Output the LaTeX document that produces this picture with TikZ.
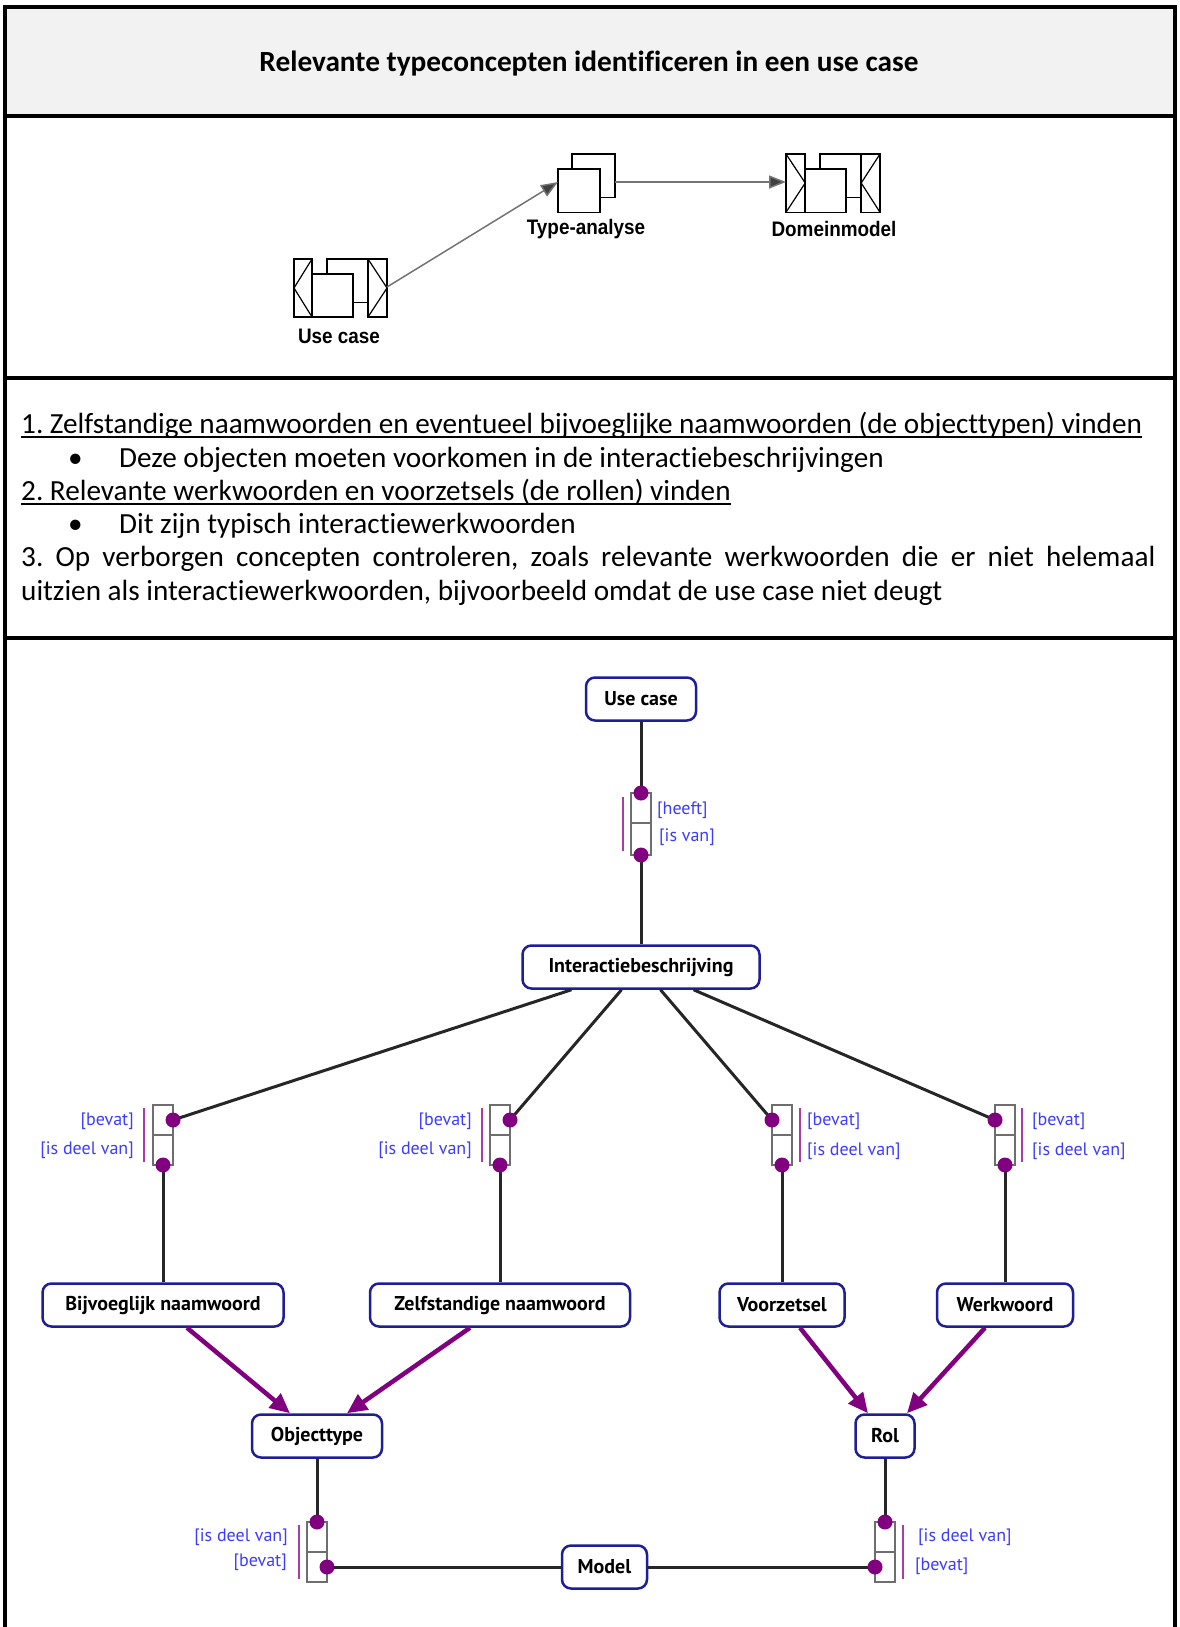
\documentclass[tikz,border=0pt]{standalone}
\usepackage{fontspec}
\setmainfont{Carlito}[Ligatures={NoCommon}]
\newfontfamily\ptsans{PT Sans}
\newfontfamily\lblfont[FakeStretch=0.9]{Liberation Sans}
\usetikzlibrary{arrows.meta,calc}
\definecolor{navy}{RGB}{30,30,150}
\definecolor{lblblue}{RGB}{60,60,255}
\definecolor{purp}{RGB}{128,0,128}
\definecolor{lightpurp}{RGB}{170,60,170}
\definecolor{hdrgray}{RGB}{242,242,242}
\definecolor{linegray}{RGB}{110,110,110}
\frenchspacing
\begin{document}
\begin{tikzpicture}[x=1pt,y=-1pt,
  tbl/.style={line width=3.5pt,black},
  ent/.style={draw=navy,line width=2.5pt,fill=white,rounded corners=9pt,minimum height=43pt,inner sep=0pt,font=\ptsans\bfseries\fontsize{20}{24}\selectfont},
  conn/.style={line width=3pt,black!85},
  gen/.style={line width=4.5pt,purp,-{Triangle[length=20pt,width=18pt]}},
  cbox/.style={draw=linegray,line width=2pt,fill=white},
  pdot/.style={fill=purp},
  plabel/.style={text=lblblue,font=\ptsans\fontsize{18}{20}\selectfont,inner sep=0pt},
  pbar/.style={lightpurp,line width=2pt},
  body/.style={font=\fontsize{29.2}{35}\selectfont,inner sep=0pt,anchor=base west},
  icon/.style={draw=black,line width=1.5pt,fill=white},
  iline/.style={black,line width=1.2pt},
  ilbl/.style={font=\lblfont\bfseries\fontsize{21}{24}\selectfont,inner sep=0pt},
  iarrow/.style={line width=1.5pt,black!55,-{Triangle[length=17pt,width=13pt,fill=black!75]}},
  uline/.style={line width=2pt,black}
]
\useasboundingbox (0,0) rectangle (1179,1627);
% ---------- table ----------
\fill[hdrgray] (5,7) rectangle (1175,116);
\draw[tbl] (5,1627) -- (5,7) -- (1175,7) -- (1175,1627);
\draw[tbl] (5,116) -- (1175,116);
\draw[tbl] (5,378) -- (1175,378);
\draw[tbl] (5,638) -- (1175,638);
\node[font=\bfseries\fontsize{29.3}{35}\selectfont,inner sep=0pt] (title) at (589,64) {Relevante typeconcepten identificeren in een use case};
% ---------- row 2: icons ----------
% Use case icon
\draw[icon] (326.8,259) rectangle (368,302.3);
\draw[icon] (312,274) rectangle (353.2,317);
\draw[icon] (294,259) rectangle (312,317);
\draw[iline] (312,259) -- (294,288) -- (312,317);
\draw[icon] (368,259) rectangle (387,317);
\draw[iline] (368,259) -- (387,288) -- (368,317);
% Type-analyse icon
\draw[icon] (572,154) rectangle (614.8,197.3);
\draw[icon] (558,169) rectangle (600,212.3);
% Domeinmodel icon
\draw[icon] (820,154) rectangle (861.2,197.3);
\draw[icon] (805.2,169) rectangle (846,212.3);
\draw[icon] (786,154) rectangle (805.2,212.3);
\draw[iline] (786,154) -- (805.2,183) -- (786,212.3);
\draw[icon] (861.2,154) rectangle (880,212.3);
\draw[iline] (880,154) -- (861.2,183) -- (880,212.3);
\coordinate (ucR) at (387,287);
\coordinate (taL) at (558,182);
\coordinate (taR) at (614.8,182);
\coordinate (dmL) at (786,182);
\draw[iarrow] (ucR) -- (taL);
\draw[iarrow] (taR) -- (dmL);
\node[ilbl] (uclbl) at (339,336) {Use case};
\node[ilbl] (talbl) at (586,229) {Type-analyse};
\node[ilbl] (dmlbl) at (834,229) {Domeinmodel};
% ---------- row 3: text ----------
\node[body] (t1) at (21,433) {1. Zelfstandige naamwoorden en eventueel bijvoeglijke naamwoorden (de objecttypen) vinden};
\draw[uline] ([yshift=-3.5pt]t1.base west) -- ([yshift=-3.5pt]t1.base east);
\node[body] (b1) at (68,467) {•};
\node[body] (t2) at (119,467) {Deze objecten moeten voorkomen in de interactiebeschrijvingen};
\node[body] (t3) at (21,500) {2. Relevante werkwoorden en voorzetsels (de rollen) vinden};
\draw[uline] ([yshift=-3.5pt]t3.base west) -- ([yshift=-3.5pt]t3.base east);
\node[body] (b2) at (68,533) {•};
\node[body] (t4) at (119,533) {Dit zijn typisch interactiewerkwoorden};
\node[body] (t5) at (21,566) {\makebox[1134pt][s]{3. Op verborgen concepten controleren, zoals relevante werkwoorden die er niet helemaal}};
\node[body] (t6) at (21,600) {uitzien als interactiewerkwoorden, bijvoorbeeld omdat de use case niet deugt};
% ---------- row 4: model ----------
\node[ent,minimum width=110pt] (usecase) at (641,699) {Use case};
\node[ent,minimum width=237pt] (inter) at (641,967) {Interactiebeschrijving};
\node[ent,minimum width=241pt] (bijv) at (163,1305) {Bijvoeglijk naamwoord};
\node[ent,minimum width=260pt] (zelf) at (500,1305) {Zelfstandige naamwoord};
\node[ent,minimum width=125pt] (voorz) at (782,1305) {Voorzetsel};
\node[ent,minimum width=136pt] (werk) at (1005,1305) {Werkwoord};
\node[ent,minimum width=130pt] (objt) at (317,1436) {Objecttype};
\node[ent,minimum width=59pt] (rol) at (885,1436) {Rol};
\node[ent,minimum width=85pt] (model) at (604.5,1567) {Model};
% dot coordinates
\coordinate (d0t) at (641,793);
\coordinate (d0b) at (641,855);
\coordinate (d1t) at (173,1120);
\coordinate (d1b) at (163,1165);
\coordinate (d2t) at (510,1120);
\coordinate (d2b) at (500,1165);
\coordinate (d3t) at (772,1120);
\coordinate (d3b) at (782,1165);
\coordinate (d4t) at (995,1120);
\coordinate (d4b) at (1005,1165);
\coordinate (d5t) at (317,1522);
\coordinate (d5r) at (327,1567);
\coordinate (d6t) at (885,1522);
\coordinate (d6l) at (875,1567);
% connector lines
\draw[conn] (usecase) -- (d0t);
\draw[conn] (d0b) -- (inter);
\draw[conn] (inter) -- (d1t);
\draw[conn] (inter) -- (d2t);
\draw[conn] (inter) -- (d3t);
\draw[conn] (inter) -- (d4t);
\draw[conn] (d1b) -- (bijv);
\draw[conn] (d2b) -- (zelf);
\draw[conn] (d3b) -- (voorz);
\draw[conn] (d4b) -- (werk);
\draw[conn] (objt) -- (d5t);
\draw[conn] (rol) -- (d6t);
\draw[conn] (d5r) -- (model);
\draw[conn] (model) -- (d6l);
% relation boxes
\draw[cbox] (631,793) rectangle (651,855); \draw[linegray,line width=2pt] (631,823) -- (651,823);
\draw[cbox] (153,1105) rectangle (173,1165); \draw[linegray,line width=2pt] (153,1135) -- (173,1135);
\draw[cbox] (490,1105) rectangle (510,1165); \draw[linegray,line width=2pt] (490,1135) -- (510,1135);
\draw[cbox] (772,1105) rectangle (792,1165); \draw[linegray,line width=2pt] (772,1135) -- (792,1135);
\draw[cbox] (995,1105) rectangle (1015,1165); \draw[linegray,line width=2pt] (995,1135) -- (1015,1135);
\draw[cbox] (307,1522) rectangle (327,1582); \draw[linegray,line width=2pt] (307,1552) -- (327,1552);
\draw[cbox] (875,1522) rectangle (895,1582); \draw[linegray,line width=2pt] (875,1552) -- (895,1552);
% dots
\foreach \d in {d0t,d0b,d1t,d1b,d2t,d2b,d3t,d3b,d4t,d4b,d5t,d5r,d6t,d6l}
  \fill[pdot] (\d) circle[radius=7.5pt];
% purple bars
\draw[pbar] (623,797) -- (623,851);
\draw[pbar] (144,1108) -- (144,1162);
\draw[pbar] (482,1108) -- (482,1162);
\draw[pbar] (800,1108) -- (800,1162);
\draw[pbar] (1022,1108) -- (1022,1162);
\draw[pbar] (299,1525) -- (299,1579);
\draw[pbar] (903,1525) -- (903,1579);
% role labels
\node[plabel,anchor=west] (l0a) at (657,810) {[heeft]};
\node[plabel,anchor=west] (l0b) at (659,837) {[is van]};
\node[plabel,anchor=east] (l1a) at (134,1121) {[bevat]};
\node[plabel,anchor=east] (l1b) at (134,1150) {[is deel van]};
\node[plabel,anchor=east] (l2a) at (472,1121) {[bevat]};
\node[plabel,anchor=east] (l2b) at (472,1150) {[is deel van]};
\node[plabel,anchor=west] (l3a) at (807,1121) {[bevat]};
\node[plabel,anchor=west] (l3b) at (807,1151) {[is deel van]};
\node[plabel,anchor=west] (l4a) at (1032,1121) {[bevat]};
\node[plabel,anchor=west] (l4b) at (1032,1151) {[is deel van]};
\node[plabel,anchor=east] (l5a) at (288,1537) {[is deel van]};
\node[plabel,anchor=east] (l5b) at (287,1562) {[bevat]};
\node[plabel,anchor=west] (l6a) at (918,1537) {[is deel van]};
\node[plabel,anchor=west] (l6b) at (915,1566) {[bevat]};
% generalisation arrows
\draw[gen] ([xshift=24pt]bijv.south) -- ([xshift=-27pt]objt.north);
\draw[gen] ([xshift=-30pt]zelf.south) -- ([xshift=30pt]objt.north);
\draw[gen] ([xshift=18pt]voorz.south) -- ([xshift=-17pt]rol.north);
\draw[gen] ([xshift=-20pt]werk.south) -- ([xshift=22pt]rol.north);
\end{tikzpicture}
\end{document}
